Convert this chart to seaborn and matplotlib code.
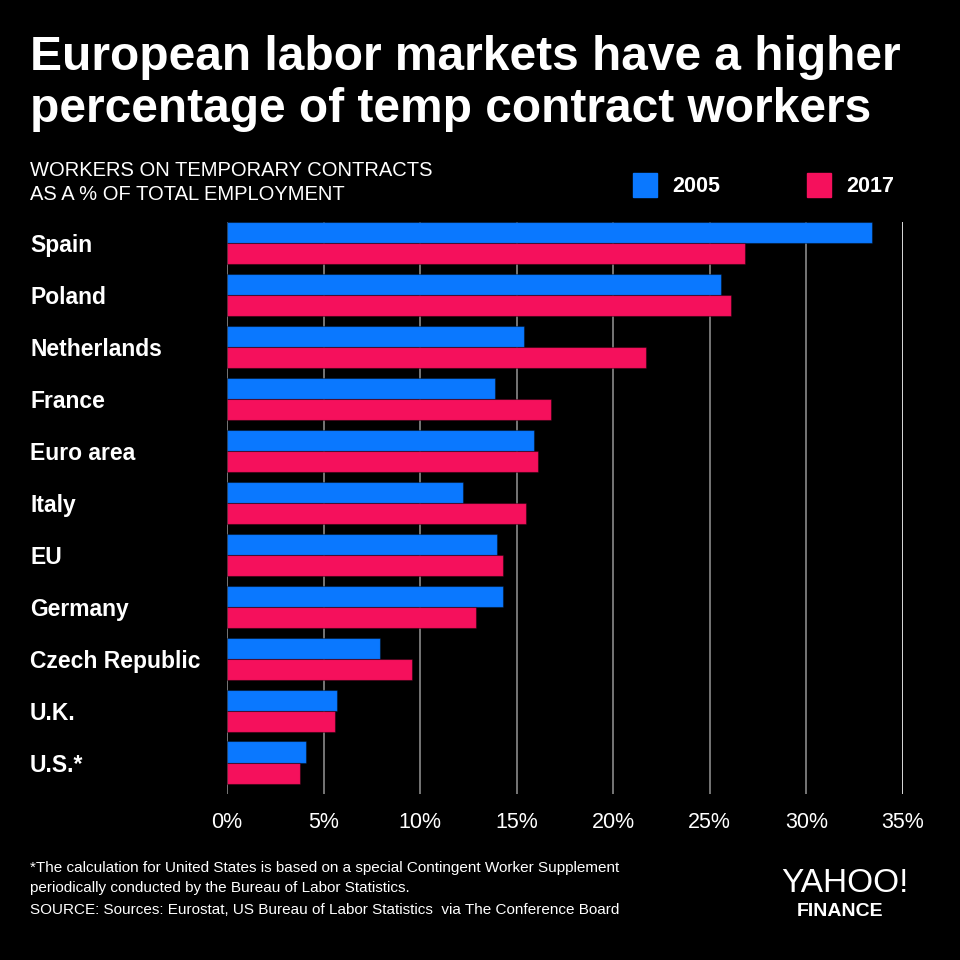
import matplotlib
matplotlib.use("Agg")
import matplotlib.pyplot as plt
import matplotlib.transforms as mtrans
import seaborn as sns
import pandas as pd

countries = ["Spain", "Poland", "Netherlands", "France", "Euro area", "Italy",
             "EU", "Germany", "Czech Republic", "U.K.", "U.S.*"]
share_2005 = [33.4, 25.6, 15.4, 13.9, 15.9, 12.2, 14.0, 14.3, 7.9, 5.7, 4.1]
share_2017 = [26.8, 26.1, 21.7, 16.8, 16.1, 15.5, 14.3, 12.9, 9.6, 5.6, 3.8]
years = ["2005", "2017"]
xticks = [0, 5, 10, 15, 20, 25, 30, 35]

BLUE = "#0a78ff"
PINK = "#f5105c"

df = pd.DataFrame({
    "country": countries * 2,
    "year": [years[0]] * len(countries) + [years[1]] * len(countries),
    "share": share_2005 + share_2017,
})

sns.set_style("dark")
plt.rcParams["font.family"] = ["Liberation Sans", "DejaVu Sans"]

fig = plt.figure(figsize=(9.6, 9.6), dpi=100, facecolor="black")
ax = fig.add_axes([0.2365, 0.1729, 0.704, 0.5958])
ax.set_facecolor("black")

# gridlines under the bars
for t in xticks:
    ax.axvline(t, color="#ffffff" if t == 35 else "#8a8a8a", lw=1.2, zorder=0)

sns.barplot(data=df, y="country", x="share", hue="year", orient="h",
            palette=[BLUE, PINK], order=countries, hue_order=years,
            width=0.82, saturation=1, ax=ax, legend=False, zorder=2)
for p in ax.patches:
    p.set_edgecolor("#00000066")
    p.set_linewidth(0.8)

ax.set_xlim(0, 35)
ax.set_ylim(10.6, -0.4)
ax.set_xlabel("")
ax.set_ylabel("")
ax.set_xticks(xticks)
ax.set_xticklabels([f"{t}%" for t in xticks], color="white", fontsize=15.5)
ax.tick_params(axis="x", length=0, pad=13)
ax.set_yticks(range(len(countries)))
ax.set_yticklabels([])
ax.tick_params(axis="y", length=0)
for s in ax.spines.values():
    s.set_visible(False)
ax.grid(False)

# country labels, left aligned
lab_tr = mtrans.blended_transform_factory(fig.transFigure, ax.transData)
for i, c in enumerate(countries):
    ax.text(30 / 960, i + 0.06, c, transform=lab_tr,
            color="white", fontsize=16.5, fontweight="bold", va="center", ha="left")

# title
fig.text(30 / 960, 1 - 58 / 960, "European labor markets have a higher",
         color="white", fontsize=34.5, fontweight="bold", va="center", ha="left")
fig.text(30 / 960, 1 - 110 / 960, "percentage of temp contract workers",
         color="white", fontsize=34.5, fontweight="bold", va="center", ha="left")

# subtitle
fig.text(30 / 960, 1 - 171 / 960, "WORKERS ON TEMPORARY CONTRACTS",
         color="white", fontsize=14.5, va="center", ha="left")
fig.text(30 / 960, 1 - 195 / 960, "AS A % OF TOTAL EMPLOYMENT",
         color="white", fontsize=14.5, va="center", ha="left")

# legend
for x0, col, lab in [(633, BLUE, years[0]), (807, PINK, years[1])]:
    fig.patches.append(plt.Rectangle((x0 / 960, 1 - 197 / 960), 24 / 960, 24 / 960,
                                     transform=fig.transFigure, color=col))
    fig.text((x0 + 39) / 960, 1 - 186 / 960, lab, color="white", fontsize=15.5,
             fontweight="bold", va="center", ha="left")

# footnotes
fig.text(30 / 960, 1 - 868 / 960,
         "*The calculation for United States is based on a special Contingent Worker Supplement",
         color="white", fontsize=11, va="center", ha="left")
fig.text(30 / 960, 1 - 888 / 960,
         "periodically conducted by the Bureau of Labor Statistics.",
         color="white", fontsize=11, va="center", ha="left")
fig.text(30 / 960, 1 - 910 / 960,
         "SOURCE: Sources: Eurostat, US Bureau of Labor Statistics  via The Conference Board",
         color="white", fontsize=11, va="center", ha="left")

# logo
fig.text(845 / 960, 1 - 884 / 960, "YAHOO!", color="white", fontsize=24,
         va="center", ha="center")
fig.text(840 / 960, 1 - 911 / 960, "FINANCE", color="white", fontsize=14,
         fontweight="bold", va="center", ha="center")

fig.savefig("out.png", dpi=100, facecolor="black")
